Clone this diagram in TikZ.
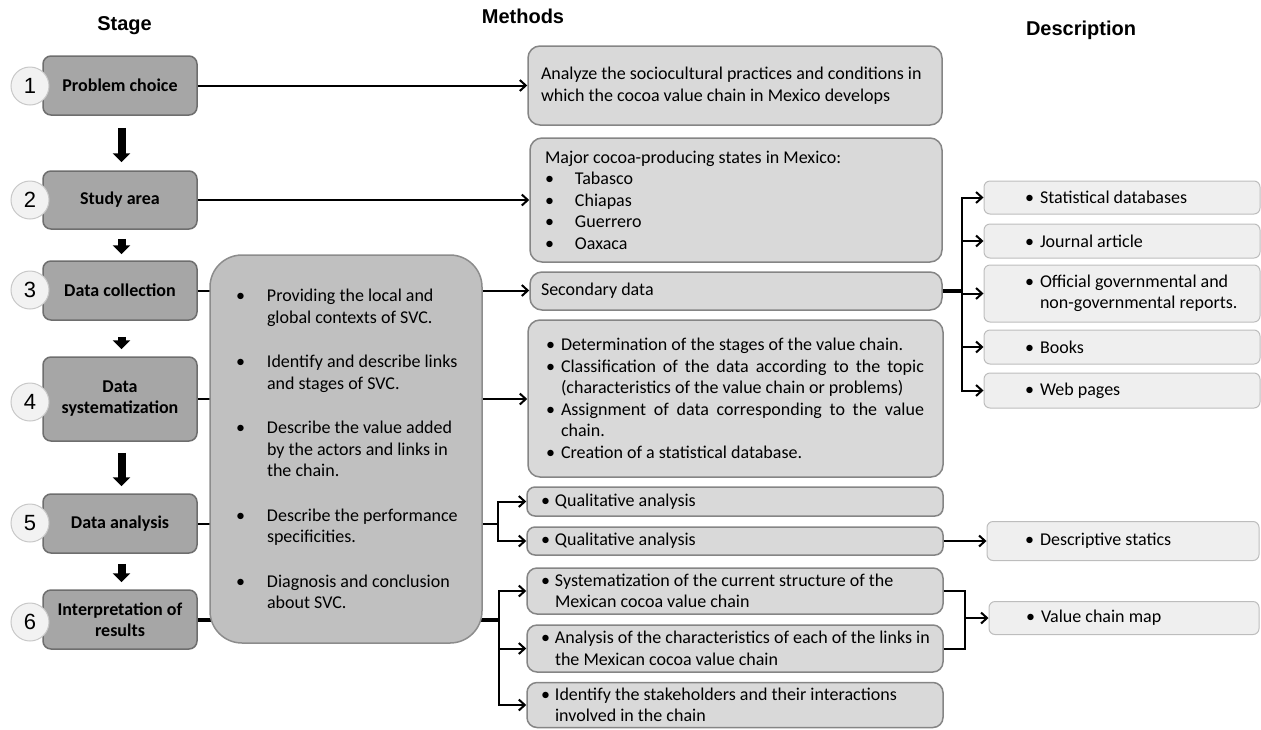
\documentclass[tikz,border=0pt]{standalone}
\usepackage{fontspec}
\setmainfont{Carlito}
\newfontfamily\headfont{Liberation Sans}
\usetikzlibrary{arrows.meta}

\definecolor{stagefill}{HTML}{A6A6A6}
\definecolor{stageedge}{HTML}{6E6E6E}
\definecolor{methfill}{HTML}{D9D9D9}
\definecolor{methedge}{HTML}{858585}
\definecolor{bigfill}{HTML}{C0C0C0}
\definecolor{bigedge}{HTML}{8C8C8C}
\definecolor{descfill}{HTML}{EFEFEF}
\definecolor{descedge}{HTML}{BDBDBD}
\definecolor{circfill}{HTML}{F2F2F2}
\definecolor{circedge}{HTML}{C8C8C8}

% bullet paragraph with hanging indent (break lines inside with \newline)
\newcommand\bul[2]{\hangindent=#1\hangafter=1\noindent\makebox[#1][l]{\textbullet}#2\par}
% box content: total width, left pad, text width, text (ragged right)
\newcommand\lbox[4]{\makebox[#1][l]{\hspace*{#2}\parbox{#3}{\raggedright #4}}}
% same, justified
\newcommand\jbox[4]{\makebox[#1][l]{\hspace*{#2}\parbox{#3}{#4}}}

\begin{document}
\begin{tikzpicture}[x=1pt,y=-1pt,
  font=\fontsize{18}{21.5}\selectfont,
  stagebox/.style={draw=stageedge, fill=stagefill, line width=1.5pt, rounded corners=8pt,
    minimum width=154pt, inner sep=0pt, align=center,
    font=\fontsize{18}{21}\selectfont\bfseries},
  numcirc/.style={circle, draw=circedge, fill=circfill, line width=1pt, minimum size=38pt,
    inner sep=0pt, font=\headfont\fontsize{22}{22}\selectfont},
  methbox/.style={draw=methedge, fill=methfill, line width=1.5pt, rounded corners=12pt,
    inner sep=0pt},
  descbox/.style={draw=descedge, fill=descfill, line width=1pt, rounded corners=6pt,
    inner sep=0pt},
  bigbox/.style={draw=bigedge, fill=bigfill, line width=1.5pt, rounded corners=32pt,
    inner sep=0pt, minimum width=272pt, minimum height=388pt},
  header/.style={font=\headfont\bfseries\fontsize{20}{20}\selectfont, anchor=base},
  conn/.style={line width=2pt, -{Straight Barb[length=6pt,width=11pt]}},
  wire/.style={line width=2pt},
  thickwire/.style={line width=4pt},
  downarrow/.style={line width=8pt, -{Triangle[length=9pt,width=17pt]}},
]
\useasboundingbox (0,0) rectangle (1261,729);

% column headers
\node[header] (hstage) at (124.5,30.5) {Stage};
\node[header] (hmeth) at (523,23) {Methods};
\node[header] (hdesc) at (1081,35) {Description};

% stages
\node[stagebox, minimum height=59pt] (s1) at (120,85.5) {Problem choice};
\node[stagebox, minimum height=58pt] (s2) at (120,200) {Study area};
\node[stagebox, minimum height=59pt] (s3) at (120,290.5) {Data collection};
\node[stagebox, minimum height=84pt] (s4) at (120,399) {Data\\systematization};
\node[stagebox, minimum height=59pt] (s5) at (120,523.5) {Data analysis};
\node[stagebox, minimum height=59pt] (s6) at (120,619.5) {Interpretation of\\results};

\node[numcirc] (c1) at (30,86) {1};
\node[numcirc] (c2) at (30,200) {2};
\node[numcirc] (c3) at (30,290) {3};
\node[numcirc] (c4) at (30,402) {4};
\node[numcirc] (c5) at (30,523) {5};
\node[numcirc] (c6) at (30,622) {6};

% arrows between stages
\draw[downarrow, shorten <=12pt, shorten >=8pt] ([xshift=1.5pt]s1.south) -- ([xshift=1.5pt]s2.north);
\draw[downarrow, shorten <=9pt, shorten >=6pt] ([xshift=1.5pt]s2.south) -- ([xshift=1.5pt]s3.north);
\draw[downarrow, shorten <=16pt, shorten >=7pt] ([xshift=1.5pt]s3.south) -- ([xshift=1.5pt]s4.north);
\draw[downarrow, shorten <=11pt, shorten >=7pt] ([xshift=1.5pt]s4.south) -- ([xshift=1.5pt]s5.north);
\draw[downarrow, shorten <=10pt, shorten >=7pt] ([xshift=1.5pt]s5.south) -- ([xshift=1.5pt]s6.north);

% methods
\node[methbox, minimum height=79pt] (m1) at (735,85.5)
  {\lbox{414pt}{13pt}{398pt}{Analyze the sociocultural practices and conditions in\newline which the cocoa value chain in Mexico develops}};
\node[methbox, minimum height=124pt] (m2) at (736,200)
  {\lbox{412pt}{15pt}{380pt}{Major cocoa-producing states in Mexico:\par
   \bul{30pt}{Tabasco}\bul{30pt}{Chiapas}\bul{30pt}{Guerrero}\bul{30pt}{Oaxaca}}};
\node[methbox, minimum height=38pt] (sec) at (736,291)
  {\lbox{412pt}{11pt}{380pt}{Secondary data}};
\node[methbox, minimum height=157pt] (sys) at (735.5,398.5)
  {\jbox{415pt}{18pt}{378pt}{%
   \bul{15pt}{Determination of the stages of the value chain.}%
   \bul{15pt}{Classification of the data according to the topic\linebreak (characteristics of the value chain or problems)}%
   \bul{15pt}{Assignment of data corresponding to the value\linebreak chain.}%
   \bul{15pt}{Creation of a statistical database.}}};
\node[methbox, rounded corners=8pt, minimum height=29pt] (q1) at (735,501.5)
  {\lbox{416pt}{14pt}{398pt}{\bul{14pt}{Qualitative analysis}}};
\node[methbox, rounded corners=8pt, minimum height=28pt] (q2) at (735,541)
  {\lbox{416pt}{14pt}{398pt}{\bul{14pt}{Qualitative analysis}}};
\node[methbox, rounded corners=10pt, minimum height=46pt] (sy) at (735,591)
  {\lbox{416pt}{14pt}{398pt}{\bul{14pt}{Systematization of the current structure of the\newline Mexican cocoa value chain}}};
\node[methbox, rounded corners=10pt, minimum height=47pt] (an) at (735,648.5)
  {\lbox{416pt}{14pt}{398pt}{\bul{14pt}{Analysis of the characteristics of each of the links in\newline the Mexican cocoa value chain}}};
\node[methbox, rounded corners=10pt, minimum height=45pt] (id) at (735,705)
  {\lbox{416pt}{14pt}{398pt}{\bul{14pt}{Identify the stakeholders and their interactions\newline involved in the chain}}};

% descriptions
\node[descbox, minimum height=33pt] (d1) at (1122,197.5)
  {\lbox{276pt}{41pt}{232pt}{\bul{15pt}{Statistical databases}}};
\node[descbox, minimum height=34pt] (d2) at (1122,241)
  {\lbox{276pt}{41pt}{232pt}{\bul{15pt}{Journal article}}};
\node[descbox, minimum height=57pt] (d3) at (1122,293.5)
  {\lbox{276pt}{41pt}{232pt}{\bul{15pt}{Official governmental and\newline non-governmental reports.}}};
\node[descbox, minimum height=34pt] (d4) at (1122,347)
  {\lbox{276pt}{41pt}{232pt}{\bul{15pt}{Books}}};
\node[descbox, minimum height=35pt] (d5) at (1122,390.5)
  {\lbox{276pt}{41pt}{232pt}{\bul{15pt}{Web pages}}};
\node[descbox, minimum height=39pt] (ds) at (1123,541)
  {\lbox{272pt}{38pt}{232pt}{\bul{15pt}{Descriptive statics}}};
\node[descbox, minimum height=33pt] (vcm) at (1124,618)
  {\lbox{270pt}{37pt}{232pt}{\bul{15pt}{Value chain map}}};

% junction points
\coordinate (j3) at (962,291);
\coordinate (j5) at (498,523.5);
\coordinate (j6) at (499,619.5);
\coordinate (jv) at (965,618);

% connectors from the stages
\draw[conn] (s1.east) -- (m1.west);
\draw[conn] (s2.east) -- (m2.west);
\draw[conn] (s3.east) -- (s3.east -| sec.west);
\draw[conn] (s4.east) -- (s4.east -| sys.west);
\draw[wire] (s5.east) -- (j5);
\draw[conn] (j5) |- (q1.west);
\draw[conn] (j5) |- (q2.west);
\draw[thickwire] (s6.east) -- (j6);
\draw[conn] (j6) |- (sy.west);
\draw[conn] (j6) |- (an.west);
\draw[conn] (j6) |- (id.west);

% connectors to the descriptions
\draw[thickwire] (sec.east) -- (j3);
\foreach \d in {d1,d2,d3,d4,d5} \draw[conn] (j3) |- (\d.west);
\draw[conn] (q2.east) -- (ds.west);
\draw[wire] (sy.east) -| (jv);
\draw[wire] (an.east) -| (jv);
\draw[conn] (jv) -- (vcm.west);

% objectives of the value-chain study
\node[bigbox] (obj) at (346,449)
  {\lbox{272pt}{26pt}{236pt}{\parskip=23pt
   \bul{31pt}{Providing the local and\newline global contexts of SVC.}
   \bul{31pt}{Identify and describe links\newline and stages of SVC.}
   \bul{31pt}{Describe the value added\newline by the actors and links in\newline the chain.}
   \bul{31pt}{Describe the performance\newline specificities.}
   \bul{31pt}{Diagnosis and conclusion\newline about SVC.}}};
\end{tikzpicture}
\end{document}
